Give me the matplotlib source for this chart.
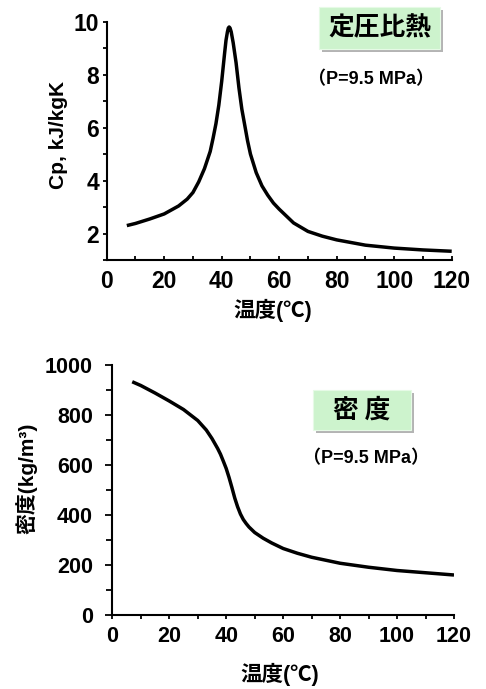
import matplotlib
matplotlib.use("Agg")
import matplotlib.pyplot as plt
from matplotlib.patches import Rectangle
from matplotlib.ticker import MultipleLocator

# ---------------- data ----------------
cp_temp = [7, 10, 15, 20, 25, 28, 30, 32, 34, 36, 37, 38, 39, 40, 41, 41.5, 42,
           42.3, 42.6, 42.9, 43.3, 44, 45, 46, 47, 48, 49, 50, 52, 54, 56, 58,
           60, 65, 70, 75, 80, 90, 100, 110, 120]
cp_vals = [2.30, 2.38, 2.55, 2.74, 3.04, 3.30, 3.55, 3.95, 4.45, 5.10, 5.60,
           6.15, 6.85, 7.75, 8.80, 9.30, 9.62, 9.76, 9.80, 9.76, 9.62, 9.20,
           8.45, 7.50, 6.70, 6.10, 5.50, 5.00, 4.30, 3.80, 3.45, 3.15, 2.92,
           2.40, 2.08, 1.90, 1.76, 1.56, 1.45, 1.38, 1.33]

rho_temp = [7, 10, 15, 20, 25, 30, 33, 35, 37, 38, 39, 40, 41, 42, 43, 44,
            45, 46, 47, 48, 50, 53, 56, 60, 65, 70, 80, 90, 100, 110, 120]
rho_vals = [933, 918, 888, 856, 822, 778, 740, 706, 666, 643, 615, 586, 550,
            510, 468, 433, 404, 382, 366, 352, 330, 307, 288, 266, 247, 231,
            207, 191, 178, 169, 160]

x_ticks = [0, 20, 40, 60, 80, 100, 120]
cp_ticks = [2, 4, 6, 8, 10]
rho_ticks = [0, 200, 400, 600, 800, 1000]

title_cp = "定圧比熱"
title_rho = "密 度"
pressure_note = "（P=9.5 MPa）"
xlabel_text = "温度(℃)"
ylabel_cp = "Cp, kJ/kgK"
ylabel_rho = "密度(kg/m³)"

# ---------------- style ----------------
FAM = ["Liberation Sans", "Noto Sans CJK JP", "DejaVu Sans"]
plt.rcParams["font.family"] = FAM
plt.rcParams["font.weight"] = "bold"

W, H = 486, 689
fig = plt.figure(figsize=(W / 100, H / 100), dpi=100)


def fx(px):
    return px / W


def fy(py):
    return 1 - py / H


ax1 = fig.add_axes([fx(106.7), fy(260), (451.7 - 106.7) / W, (260 - 21.7) / H])
ax2 = fig.add_axes([fx(112.3), fy(615), (454 - 112.3) / W, (615 - 365) / H])

for ax in (ax1, ax2):
    ax.spines["top"].set_visible(False)
    ax.spines["right"].set_visible(False)
    ax.spines["left"].set_linewidth(1.5)
    ax.spines["bottom"].set_linewidth(1.5)
    ax.set_xlim(0, 120)
    ax.set_xticks(x_ticks)
    ax.xaxis.set_minor_locator(MultipleLocator(10))

# top chart
ax1.plot(cp_temp, cp_vals, color="black", lw=2.5, solid_capstyle="butt",
         solid_joinstyle="round")
ax1.set_ylim(1, 10)
ax1.set_yticks(cp_ticks)
ax1.yaxis.set_minor_locator(MultipleLocator(1))
ax1.tick_params(axis="x", which="both", direction="in", length=3, width=1.3,
                labelsize=16.5, pad=7.5)
ax1.tick_params(axis="y", which="both", direction="out", length=3, width=1.3,
                labelsize=16.5, pad=2.5)

# bottom chart
ax2.plot(rho_temp, rho_vals, color="black", lw=2.5, solid_capstyle="butt",
         solid_joinstyle="round")
ax2.set_ylim(0, 1000)
ax2.set_yticks(rho_ticks)
ax2.yaxis.set_minor_locator(MultipleLocator(100))
ax2.tick_params(axis="x", which="both", direction="out", length=3, width=1.3,
                labelsize=15.5, pad=5)
ax2.tick_params(axis="y", which="major", direction="out", length=5, width=1.3,
                labelsize=15.5, pad=9)
ax2.tick_params(axis="y", which="minor", direction="out", length=4, width=1.3)

for ax in (ax1, ax2):
    for lbl in ax.get_xticklabels() + ax.get_yticklabels():
        lbl.set_fontweight("bold")

fig.text(fx(58), fy(135), ylabel_cp, rotation=90, ha="center", va="center",
         fontsize=15, fontweight="bold", family=FAM)
fig.text(fx(26), fy(478), ylabel_rho, rotation=90, ha="center", va="center",
         fontsize=15, fontweight="bold", family=FAM)
fig.text(fx(273), fy(310), xlabel_text, ha="center", va="center",
         fontsize=15.5, fontweight="bold", family=FAM)
fig.text(fx(280), fy(674), xlabel_text, ha="center", va="center",
         fontsize=15.5, fontweight="bold", family=FAM)


def label_box(x0, y0, x1, y1, text):
    shadow = Rectangle((fx(x0 + 3), fy(y1 + 3)), (x1 - x0) / W, (y1 - y0) / H,
                       transform=fig.transFigure, facecolor="#b4b4b4",
                       edgecolor="none", zorder=1)
    box = Rectangle((fx(x0), fy(y1)), (x1 - x0) / W, (y1 - y0) / H,
                    transform=fig.transFigure, facecolor="#cdf3cd",
                    edgecolor="#e6fae6", lw=0.8, zorder=2)
    fig.patches.extend([shadow, box])
    fig.text(fx((x0 + x1) / 2), fy((y0 + y1) / 2), text, ha="center",
             va="center", fontsize=18.5, fontweight="bold",
             family=["Noto Sans CJK JP", "DejaVu Sans"], zorder=3)


label_box(319, 7, 440, 49, title_cp)
label_box(313, 390, 411, 430, title_rho)

fig.text(fx(371), fy(80), pressure_note, ha="center", va="center",
         fontsize=13, fontweight="bold", family=FAM)
fig.text(fx(366), fy(459), pressure_note, ha="center", va="center",
         fontsize=13, fontweight="bold", family=FAM)

fig.savefig("out.png", dpi=100)
